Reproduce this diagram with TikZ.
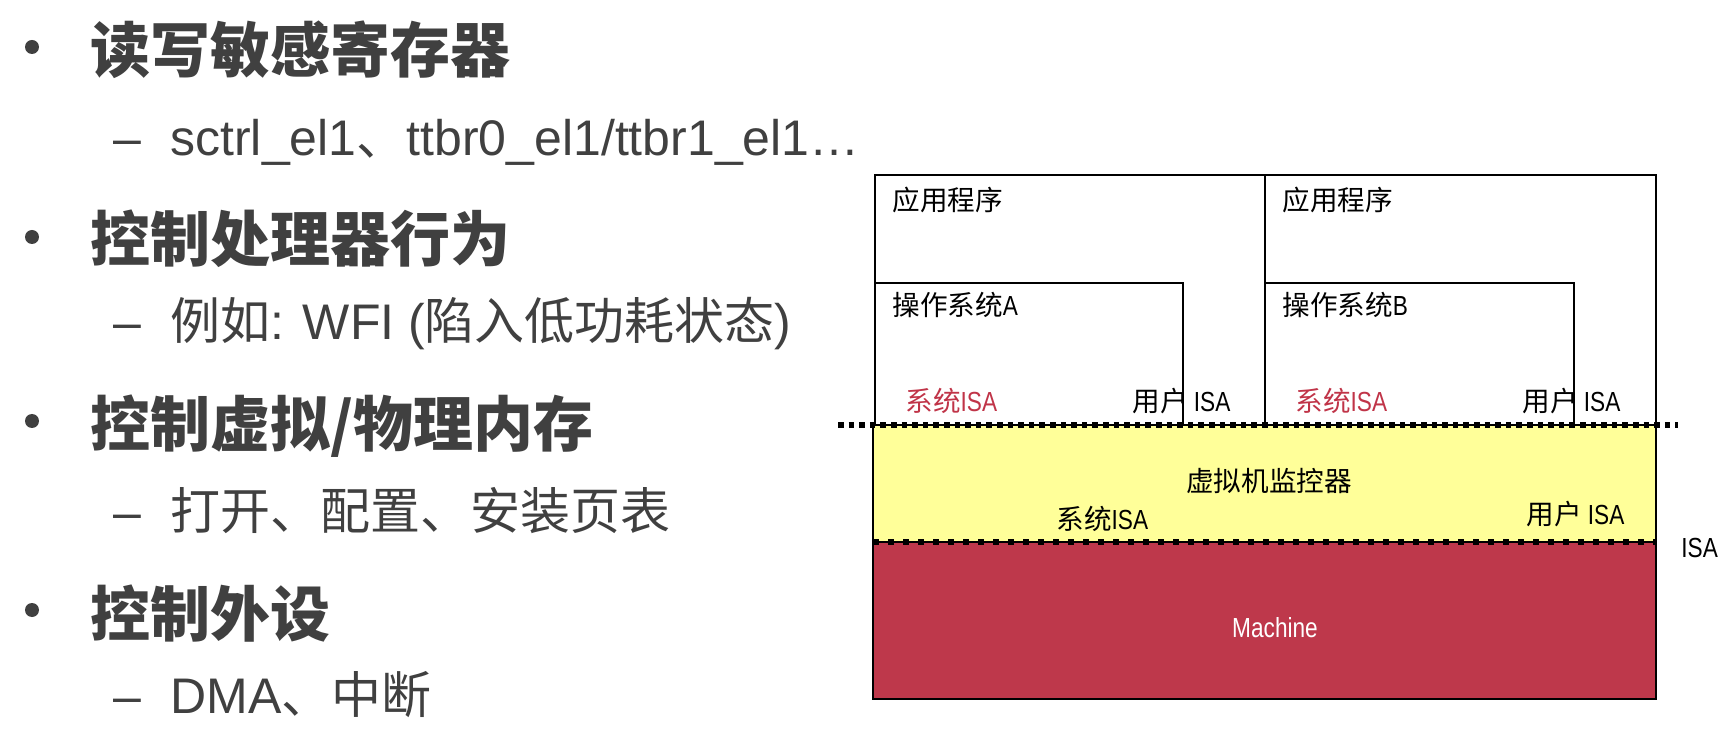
\documentclass[tikz,border=0pt]{standalone}
\usepackage{fontspec}
\setmainfont{Liberation Sans}
\newfontfamily\cjk{Noto Sans CJK SC}
\newfontfamily\narrow[FakeStretch=0.82]{Liberation Sans}
\newcommand{\zh}[1]{{\cjk #1}}
\definecolor{txtgray}{RGB}{64,64,64}
\definecolor{vmmyellow}{RGB}{255,255,153}
\definecolor{machred}{RGB}{190,56,75}
\definecolor{isared}{RGB}{192,52,72}
\tikzset{
  head/.style={anchor=base west, inner sep=0pt, text=txtgray, font=\cjk\bfseries\fontsize{30}{36}\selectfont},
  sub/.style={anchor=base west, inner sep=0pt, text=txtgray, font=\fontsize{25}{30}\selectfont},
  lbl/.style={anchor=base west, inner sep=0pt, font=\narrow\fontsize{13.8}{16}\selectfont},
  sysisa/.style={lbl, text=isared},
  layer/.style={draw=black, line width=1pt},
  isatop/.style={line width=3pt, dash pattern=on 2.8pt off 2.5pt},
  isabot/.style={line width=3.2pt, dash pattern=on 3pt off 4.5pt}
}

\begin{document}
\begin{tikzpicture}[x=0.5pt,y=-0.5pt]
			\useasboundingbox (0,0) rectangle (1722,742);
			%%%%% LIST %%%%%
			
			\fill[txtgray] (32,47) circle (3.5pt);
			\node[head] (h1) at (90,73) {读写敏感寄存器};
			\node[sub] (d1) at (113,156) {–};
			\node[sub] (s1) at (170,156) {sctrl\_el1\zh{、}ttbr0\_el1/ttbr1\_el1…};
			
			\fill[txtgray] (32,237) circle (3.5pt);
			\node[head] (h2) at (90,262) {控制处理器行为};
			\node[sub] (d2) at (113,340) {–};
			\node[sub] (s2) at (170,340) {\zh{例如}: WFI (\zh{陷入低功耗状态})};
			
			\fill[txtgray] (32,421) circle (3.5pt);
			\node[head] (h3) at (90,447) {控制虚拟/物理内存};
			\node[sub] (d3) at (113,529) {–};
			\node[sub] (s3) at (170,529) {\zh{打开、配置、安装页表}};
			
			\fill[txtgray] (32,610) circle (3.5pt);
			\node[head] (h4) at (90,636) {控制外设};
			\node[sub] (d4) at (113,713) {–};
			\node[sub] (s4) at (170,713) {DMA\zh{、中断}};
			
			%%%%% LAYERS %%%%%
			
			\draw[layer] (875,175) rectangle (1265,425);
			\draw[layer] (1265,175) rectangle (1656,425);
			\draw[layer] (875,283) rectangle (1183,425);
			\draw[layer] (1265,283) rectangle (1574,425);
			\draw[layer, fill=vmmyellow] (873,425) rectangle (1656,542);
			\draw[layer, fill=machred] (873,542) rectangle (1656,699);
			
			\draw[isatop] (838,425) -- (1678,425);
			\draw[isabot] (873,542) -- (1656,542);
			
			\node[lbl] (appA) at (892,211) {\zh{应用程序}};
			\node[lbl] (osA) at (892,316) {\zh{操作系统}A};
			\node[sysisa] (sysA) at (905,412) {\zh{系统}ISA};
			\node[lbl] (usrA) at (1132,412) {\zh{用户} ISA};
			
			\node[lbl] (appB) at (1282,211) {\zh{应用程序}};
			\node[lbl] (osB) at (1282,316) {\zh{操作系统}B};
			\node[sysisa] (sysB) at (1295,412) {\zh{系统}ISA};
			\node[lbl] (usrB) at (1522,412) {\zh{用户} ISA};
			
			\node[lbl, anchor=base] (vmm) at (1269,491) {\zh{虚拟机监控器}};
			\node[lbl] (sysV) at (1056,529) {\zh{系统}ISA};
			\node[lbl] (usrV) at (1526,524) {\zh{用户} ISA};
			\node[lbl] (isa) at (1681,557) {ISA};
			\node[lbl, anchor=base, text=white] (mach) at (1275,637) {Machine};
			
			%%%%% END %%%%%
\end{tikzpicture}
\end{document}
